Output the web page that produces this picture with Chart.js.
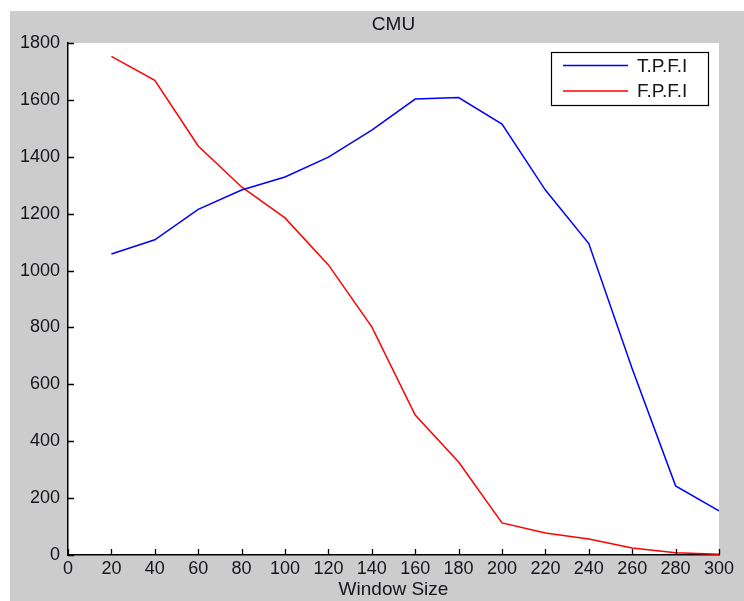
<!DOCTYPE html>
<html>
<head>
<meta charset="utf-8">
<script src="https://cdn.jsdelivr.net/npm/chart.js@4/dist/chart.umd.min.js"></script>
<style>
  html, body { margin: 0; padding: 0; background: #ffffff; }
  #fig { position: absolute; left: 10px; top: 11px; background: #cccccc; }
</style>
</head>
<body>
<canvas id="fig" width="734" height="590"></canvas>
<script>
// Window sizes on the x axis
const windowSize = [20, 40, 60, 80, 100, 120, 140, 160, 180, 200, 220, 240, 260, 280, 300];
// T.P.F.I (blue)
const tpfi = [1058, 1108, 1215, 1283, 1329, 1399, 1494, 1603, 1608, 1515, 1283, 1095, 655, 243, 155];
// F.P.F.I (red)
const fpfi = [1753, 1669, 1438, 1294, 1185, 1020, 802, 492, 327, 113, 77, 56, 25, 8, 3];

const xTicks = { min: 0, max: 300, step: 20 };
const yTicks = { min: 0, max: 1800, step: 200 };

const fontFamily = '"Liberation Sans", Arial, Helvetica, sans-serif';
const textColor = '#15151c';

function toPoints(xs, ys) {
    return xs.map((x, i) => ({ x: x, y: ys[i] }));
}

// white axes background + inward tick marks, MATLAB style
const axesPlugin = {
    id: 'axesPlugin',
    beforeDraw(chart) {
        const { ctx, chartArea: a } = chart;
        ctx.save();
        ctx.fillStyle = '#ffffff';
        ctx.fillRect(a.left, a.top, a.right - a.left, a.bottom - a.top);
        ctx.restore();
    },
    afterDraw(chart) {
        const { ctx, chartArea: a, scales } = chart;
        ctx.save();
        ctx.strokeStyle = '#000000';
        ctx.lineWidth = 1.3;
        ctx.beginPath();
        scales.x.ticks.forEach(t => {
            const px = Math.round(scales.x.getPixelForValue(t.value)) + 0.5;
            ctx.moveTo(px, a.bottom);
            ctx.lineTo(px, a.bottom - 6);
        });
        scales.y.ticks.forEach(t => {
            const py = Math.round(scales.y.getPixelForValue(t.value)) + 0.5;
            ctx.moveTo(a.left, py);
            ctx.lineTo(a.left + 6, py);
        });
        ctx.stroke();
        ctx.restore();
    }
};

// boxed legend in the upper right corner of the axes
const boxLegend = {
    id: 'boxLegend',
    afterDatasetsDraw(chart) {
        const { ctx, chartArea: a } = chart;
        const w = 157, h = 53;
        const bx = a.right - 11 - w;
        const by = a.top + 9;
        ctx.save();
        ctx.fillStyle = '#ffffff';
        ctx.fillRect(bx, by, w, h);
        ctx.strokeStyle = '#000';
        ctx.lineWidth = 1.2;
        ctx.strokeRect(bx + 0.5, by + 0.5, w, h);
        const rows = [13.5, 39];
        chart.data.datasets.forEach((ds, i) => {
            const y = by + rows[i];
            ctx.strokeStyle = ds.borderColor;
            ctx.lineWidth = 1.5;
            ctx.beginPath();
            ctx.moveTo(bx + 12, y);
            ctx.lineTo(bx + 77, y);
            ctx.stroke();
            ctx.fillStyle = textColor;
            ctx.font = '19px ' + fontFamily;
            ctx.textBaseline = 'middle';
            ctx.textAlign = 'left';
            ctx.fillText(ds.label, bx + 86, y + 1);
        });
        ctx.restore();
    }
};

new Chart(document.getElementById('fig'), {
    type: 'line',
    data: {
        datasets: [
            {
                label: 'T.P.F.I',
                data: toPoints(windowSize, tpfi),
                borderColor: '#0000ff',
                borderWidth: 1.5,
                pointRadius: 0,
                tension: 0,
                fill: false
            },
            {
                label: 'F.P.F.I',
                data: toPoints(windowSize, fpfi),
                borderColor: '#ff0000',
                borderWidth: 1.5,
                pointRadius: 0,
                tension: 0,
                fill: false
            }
        ]
    },
    options: {
        responsive: false,
        animation: false,
        devicePixelRatio: 1,
        layout: { padding: { left: 0, right: 25, top: 0, bottom: 0 } },
        plugins: {
            legend: { display: false },
            tooltip: { enabled: false },
            title: {
                display: true,
                text: 'CMU',
                fullSize: false,
                color: textColor,
                font: { family: fontFamily, size: 19, weight: 'normal', lineHeight: 1.2 },
                padding: { top: 2, bottom: 7.2 }
            }
        },
        scales: {
            x: {
                type: 'linear',
                min: xTicks.min,
                max: xTicks.max,
                afterFit(scale) { scale.height = 46; },
                border: { display: true, color: '#000', width: 1.5 },
                grid: { display: true, drawOnChartArea: false, drawTicks: false },
                ticks: {
                    stepSize: xTicks.step,
                    padding: 3,
                    color: textColor,
                    maxRotation: 0,
                    autoSkip: false,
                    callback: v => String(v),
                    font: { family: fontFamily, size: 18 }
                },
                title: {
                    display: true,
                    text: 'Window Size',
                    color: textColor,
                    padding: { top: 0, bottom: 0 },
                    font: { family: fontFamily, size: 19, lineHeight: 1.2 }
                }
            },
            y: {
                type: 'linear',
                min: yTicks.min,
                max: yTicks.max,
                afterFit(scale) { scale.width = 58; },
                border: { display: true, color: '#000', width: 1.5 },
                grid: { display: true, drawOnChartArea: false, drawTicks: false },
                ticks: {
                    stepSize: yTicks.step,
                    padding: 8,
                    color: textColor,
                    autoSkip: false,
                    callback: v => String(v),
                    font: { family: fontFamily, size: 18 }
                }
            }
        }
    },
    plugins: [axesPlugin, boxLegend]
});
</script>
</body>
</html>
